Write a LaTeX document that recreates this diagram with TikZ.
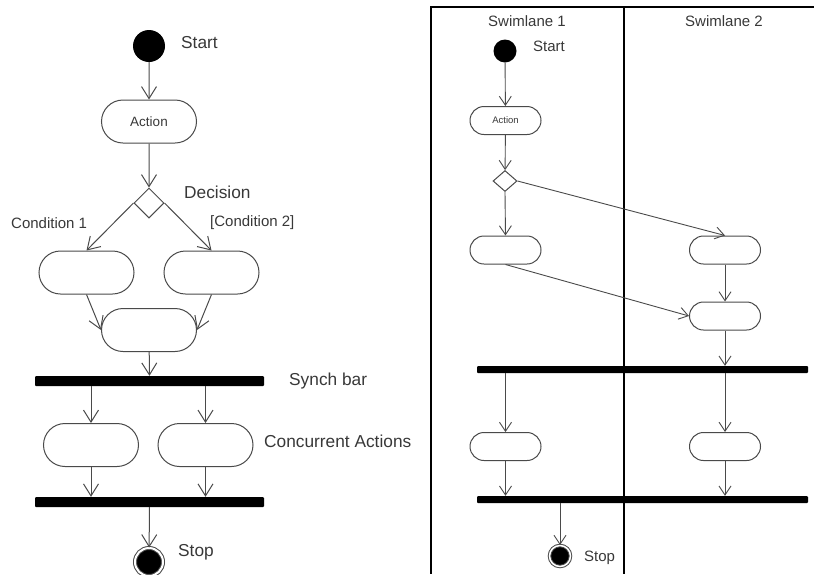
\documentclass[tikz,border=0pt]{standalone}
\usepackage{fontspec}
\setmainfont{Liberation Sans}
\usetikzlibrary{arrows.meta,positioning,shapes.geometric,shapes.misc}
\definecolor{umlline}{HTML}{4A4A4A}
\definecolor{umltext}{HTML}{383838}

\begin{document}
\begin{tikzpicture}[x=1pt, y=-1pt,
  actbox/.style={draw=umlline, rounded rectangle, minimum width=95pt,
                 minimum height=43pt, inner sep=0pt, line width=1pt,
                 font=\fontsize{13.5}{15}\selectfont, text=umltext},
  smallbox/.style={actbox, minimum width=71pt, minimum height=28pt,
                   font=\fontsize{9.5}{11}\selectfont},
  startdot/.style={circle, fill=black, minimum size=32pt, inner sep=0pt},
  stopdot/.style={circle, fill=black, draw=umlline, double=white,
                  double distance=2pt, line width=1pt,
                  minimum size=27pt, inner sep=0pt},
  decision/.style={draw=umlline, diamond, line width=1pt, inner sep=0pt,
                   minimum width=30pt, minimum height=30pt},
  synchbar/.style={fill=black, rounded corners=1pt, inner sep=0pt,
                   minimum width=229pt, minimum height=10pt},
  arr/.style={-{Straight Barb[length=12pt, width=15pt]}, draw=umlline,
              line width=1pt},
  sarr/.style={-{Straight Barb[length=9pt, width=12pt]}, draw=umlline,
               line width=0.9pt},
  lbl/.style={font=\fontsize{17.3}{19}\selectfont, text=umltext,
              inner sep=0pt, anchor=west},
  slbl/.style={lbl, font=\fontsize{15}{17}\selectfont},
]
\useasboundingbox (0,0) rectangle (814,574);

% left: plain activity diagram
\node[startdot] (start) at (149,46) {};
\node[lbl] (startlbl) at (181,43) {Start};
\node[actbox] (act) at (149,121.5) {Action};
\node[decision] (dec) at (149,203) {};
\node[lbl] (declbl) at (184,192) {Decision};
\node[slbl] (cond1) at (11,223) {Condition 1};
\node[slbl] (cond2) at (210,223) {[Condition 2]};
\node[actbox] (a1) at (86.5,272.5) {};
\node[actbox] (a2) at (211.5,272.5) {};
\node[actbox] (a3) at (149,330) {};
\node[synchbar] (bar1) at (149.5,381) {};
\node[lbl] (barlbl) at (289,381) {Synch bar};
\node[actbox] (c1) at (91,445) {};
\node[actbox] (c2) at (205.5,445) {};
\node[lbl] (conclbl) at (264,441) {Concurrent Actions};
\node[synchbar] (bar2) at (149.5,502) {};
\node[stopdot, minimum size=28pt] (stop) at (149,562) {};
\node[lbl] (stoplbl) at (178,552) {Stop};

\draw[arr] (start) -- (act);
\draw[arr] (act) -- (dec);
\draw[arr] (dec.west) -- (a1.north);
\draw[arr] (dec.east) -- (a2.north);
\draw[arr] (a1.south) -- (a3.west);
\draw[arr] (a2.south) -- (a3.east);
\draw[arr] (a3) -- (bar1);
\foreach \c in {c1, c2} {
  \draw[arr] (bar1.south -| \c) -- (\c.north);
  \draw[arr] (\c.south) -- (\c.south |- bar2.north);
}
\draw[arr] (bar2) -- (stop);

% right: same flow in swimlanes
\draw[line width=1.6pt] (814,7) -- (431,7) -- (431,574);
\draw[line width=1.3pt] (624,7) -- (624,574);
\node[slbl, anchor=center] (lane1) at (527,21) {Swimlane 1};
\node[slbl, anchor=center] (lane2) at (724,21) {Swimlane 2};

\node[startdot, minimum size=23pt] (sstart) at (505,51) {};
\node[slbl] (sstartlbl) at (533,46) {Start};
\node[smallbox] (sact) at (505.5,120.5) {Action};
\node[decision, minimum width=24pt, minimum height=21pt] (sdec) at (505,181) {};
\node[smallbox] (b1) at (505.5,250) {};
\node[smallbox] (b2) at (725,250) {};
\node[smallbox] (b3) at (725,316) {};
\node[synchbar, minimum width=331pt, minimum height=7pt] (bar3) at (642.5,369.5) {};
\node[smallbox] (d1) at (505.5,446.5) {};
\node[smallbox] (d2) at (725,446.5) {};
\node[synchbar, minimum width=331pt, minimum height=7pt] (bar4) at (642.5,499.5) {};
\node[stopdot, minimum size=21pt, double distance=1.5pt] (sstop) at (560,556) {};
\node[slbl] (sstoplbl) at (584,558) {Stop};

\draw[sarr] (sstart) -- (sact);
\draw[sarr] (sact) -- (sdec);
\draw[sarr] (sdec.south) -- (b1.north);
\draw[sarr] (sdec.east) -- (b2.north);
\draw[sarr] (b1.south) -- (b3.west);
\draw[sarr] (b2) -- (b3);
\draw[sarr] (b3.south) -- (b3.south |- bar3.north);
\foreach \d in {d1, d2} {
  \draw[sarr] (bar3.south -| \d) -- (\d.north);
  \draw[sarr] (\d.south) -- (\d.south |- bar4.north);
}
\draw[sarr] (bar4.south -| sstop) -- (sstop);
\end{tikzpicture}
\end{document}
